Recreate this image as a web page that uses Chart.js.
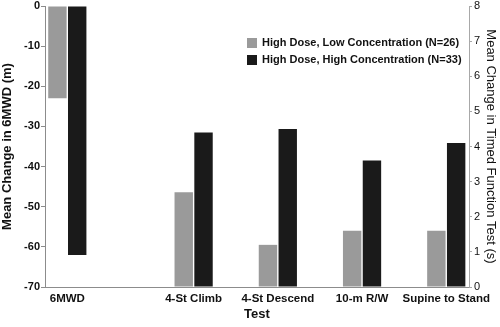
<!DOCTYPE html>
<html>
<head>
<meta charset="utf-8">
<script src="https://cdn.jsdelivr.net/npm/chart.js@4/dist/chart.umd.min.js"></script>
<style>
  html, body { margin: 0; padding: 0; background: #fff; }
  #chart { display: block; }
</style>
</head>
<body>
<canvas id="chart" width="500" height="327"></canvas>
<script>
// test names and where they sit on the x axis (6MWD is set apart from the timed tests)
const tests = ["6MWD", "4-St Climb", "4-St Descend", "10-m R/W", "Supine to Stand"];
const testPos = [0, 1.5, 2.5, 3.5, 4.5];

// 6MWD change in metres (left axis)
const walkLowConc = [-23, null, null, null, null];
const walkHighConc = [-62, null, null, null, null];

// timed function tests change in seconds (right axis)
const timedLowConc = [null, 2.7, 1.2, 1.6, 1.6];
const timedHighConc = [null, 4.4, 4.5, 3.6, 4.1];

const seriesNames = [
  "High Dose, Low Concentration (N=26)",
  "High Dose, High Concentration (N=33)"
];
const GRAY = "#9a9a9a";
const BLACK = "#1a1a1a";
const FONT = "'Liberation Sans', Arial, sans-serif";

const points = vals => vals.map((v, i) => ({ x: testPos[i], y: v }));

// fixed axis widths so the plot box lands where the original has it
const fixWidth = w => scale => {
  scale.width = w;
  scale.paddingTop = 0;
  scale.paddingBottom = 0;
};

// legend sits inside the plot area, drawn by hand
const insideLegend = {
  id: "insideLegend",
  afterDraw(chart) {
    const ctx = chart.ctx;
    const colors = [GRAY, BLACK];
    ctx.save();
    ctx.font = "bold 11px " + FONT;
    ctx.textBaseline = "middle";
    seriesNames.forEach((name, i) => {
      const y = 43 + i * 17;
      ctx.fillStyle = colors[i];
      ctx.fillRect(247, y - 5, 10, 10);
      ctx.fillStyle = "#111";
      ctx.fillText(name, 262, y);
    });
    ctx.restore();
  }
};

new Chart(document.getElementById("chart"), {
  type: "bar",
  data: {
    datasets: [
      { label: seriesNames[0], data: points(walkLowConc), backgroundColor: GRAY, yAxisID: "y" },
      { label: seriesNames[1], data: points(walkHighConc), backgroundColor: BLACK, yAxisID: "y" },
      { label: seriesNames[0], data: points(timedLowConc), backgroundColor: GRAY, yAxisID: "y2" },
      { label: seriesNames[1], data: points(timedHighConc), backgroundColor: BLACK, yAxisID: "y2" }
    ]
  },
  options: {
    responsive: false,
    animation: false,
    skipNull: true,
    categoryPercentage: 0.47,
    barPercentage: 0.93,
    layout: { padding: { top: 6, bottom: 0, left: 0, right: 0 } },
    plugins: {
      legend: { display: false },
      tooltip: { enabled: false }
    },
    scales: {
      x: {
        type: "linear",
        min: -0.265,
        max: 4.77,
        offset: false,
        afterBuildTicks: scale => { scale.ticks = testPos.map(v => ({ value: v })); },
        afterFit: scale => {
          scale.height = 40;
          scale.paddingLeft = 0;
          scale.paddingRight = 0;
        },
        ticks: {
          autoSkip: false,
          maxRotation: 0,
          padding: 5,
          font: { family: FONT, size: 11.5, weight: "bold" },
          color: "#111",
          callback: (v, i) => tests[i]
        },
        grid: { display: false, drawTicks: false },
        border: { color: "#8c8c8c", width: 1 },
        title: {
          display: true,
          text: "Test",
          font: { family: FONT, size: 13, weight: "bold" },
          color: "#111",
          padding: { top: 0, bottom: 5 }
        }
      },
      y: {
        position: "left",
        min: -70,
        max: 0,
        afterFit: fixWidth(45),
        ticks: {
          stepSize: 10,
          padding: 1,
          font: { family: FONT, size: 11, weight: "bold" },
          color: "#111"
        },
        grid: { drawOnChartArea: false, tickLength: 4, color: "#8c8c8c" },
        border: { color: "#8c8c8c", width: 1 },
        title: {
          display: true,
          text: "Mean Change in 6MWD (m)",
          font: { family: FONT, size: 13, weight: "bold" },
          color: "#111",
          padding: { top: 0, bottom: 0 }
        }
      },
      y2: {
        position: "right",
        min: 0,
        max: 8,
        afterFit: fixWidth(31),
        ticks: {
          stepSize: 1,
          padding: 2,
          font: { family: FONT, size: 11 },
          color: "#111"
        },
        grid: { drawOnChartArea: false, tickLength: 3, color: "#a8a8a8" },
        border: { color: "#a8a8a8", width: 1 },
        title: {
          display: true,
          text: "Mean Change in Timed Function Test (s)",
          font: { family: FONT, size: 13 },
          color: "#111",
          padding: { top: 2, bottom: 0 }
        }
      }
    }
  },
  plugins: [insideLegend]
});
</script>
</body>
</html>
